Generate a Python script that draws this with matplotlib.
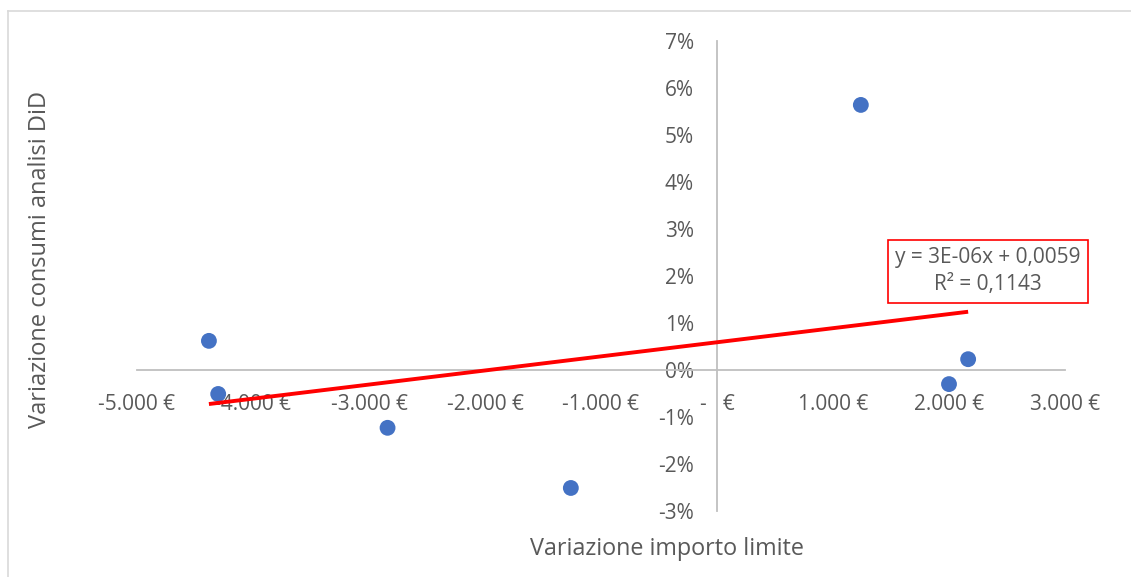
import matplotlib
matplotlib.use("Agg")
import matplotlib.pyplot as plt
from matplotlib.lines import Line2D
import numpy as np

# data
var_importo = [-4380, -4300, -2840, -1260, 1240, 2000, 2165]
var_consumi = [0.0062, -0.0051, -0.0123, -0.0251, 0.0564, -0.0030, 0.0023]

# trendline shown in the chart
slope = 3e-06
intercept = 0.0059
eq_text = "y = 3E-06x + 0,0059\nR² = 0,1143"

x_ticks = [-5000, -4000, -3000, -2000, -1000, 0, 1000, 2000, 3000]
x_labels = ["-5.000 €", "-4.000 €", "-3.000 €", "-2.000 €", "-1.000 €",
            "-   €", "1.000 €", "2.000 €", "3.000 €"]
y_ticks = [-0.03, -0.02, -0.01, 0.0, 0.01, 0.02, 0.03, 0.04, 0.05, 0.06, 0.07]
y_labels = ["-3%", "-2%", "-1%", "0%", "1%", "2%", "3%", "4%", "5%", "6%", "7%"]

plt.rcParams['font.family'] = ['Open Sans', 'DejaVu Sans']
txt = '#595959'
axc = '#BFBFBF'

fig = plt.figure(figsize=(11.31, 5.77), dpi=100)
# outer chart frame (only top and left visible in the crop)
fig.add_artist(Line2D([7.5/1131, 7.5/1131], [0, 1 - 11/577], transform=fig.transFigure,
                      color='#D9D9D9', lw=1.2))
fig.add_artist(Line2D([7.5/1131, 1], [1 - 11/577, 1 - 11/577], transform=fig.transFigure,
                      color='#D9D9D9', lw=1.2))

ax = fig.add_axes([137/1131, 66/577, 928/1131, 470/577])
ax.set_xlim(-5000, 3000)
ax.set_ylim(-0.03, 0.07)

for s in ['top', 'right']:
    ax.spines[s].set_visible(False)
ax.spines['left'].set_position(('data', 0))
ax.spines['bottom'].set_position(('data', 0))
ax.spines['left'].set_color(axc)
ax.spines['bottom'].set_color(axc)
ax.spines['left'].set_linewidth(1.3)
ax.spines['bottom'].set_linewidth(1.3)

ax.set_xticks(x_ticks)
ax.set_xticklabels(x_labels)
ax.set_yticks(y_ticks)
ax.set_yticklabels(y_labels)
ax.tick_params(axis='x', length=0, pad=17, labelsize=15, labelcolor=txt)
ax.tick_params(axis='y', length=0, pad=16.5, labelsize=15, labelcolor=txt)

ax.scatter(var_importo, var_consumi, s=130, color='#4472C4', zorder=3, edgecolors='none')

xs = np.array([min(var_importo), max(var_importo)])
ax.plot(xs, slope * xs + intercept, color='#FF0000', lw=2.8, zorder=4, solid_capstyle='butt')

ax.text(0.917, 0.5106, eq_text, transform=ax.transAxes, ha='center', va='center',
        fontsize=15, color=txt, linespacing=1.4,
        bbox=dict(boxstyle='square,pad=0.35', fc='white', ec='#FF0000', lw=1.2))

fig.text(667/1131, 1 - 549/577, "Variazione importo limite", ha='center', va='center',
         fontsize=16.8, color=txt)
fig.text(40/1131, 1 - 259/577, "Variazione consumi analisi DiD", ha='center', va='center',
         fontsize=17, color=txt, rotation=90)

fig.savefig("out.png", dpi=100)
